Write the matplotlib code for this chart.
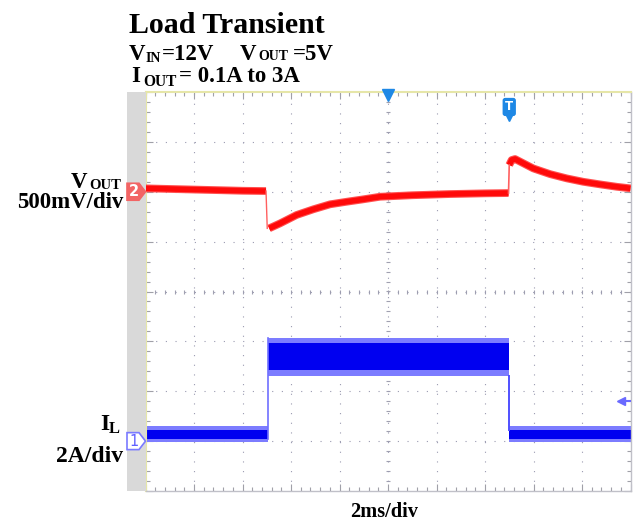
import matplotlib
matplotlib.use('Agg')
import matplotlib.pyplot as plt
import numpy as np
from matplotlib.patches import Polygon, Rectangle
from matplotlib.ticker import MultipleLocator
import matplotlib.transforms as mtransforms

# ---------------- data ----------------
# time axis: 2 ms/div, 10 divisions
TIME_MS_PER_DIV = 2.0
# CH2: Vout deviation (mV), 500 mV/div, ground marker at +2.0 div
CH2_OFFSET_DIV = 2.0
CH2_MV_PER_DIV = 500.0
vout_t1 = [0.0, 1.0, 2.0, 3.0, 4.0, 4.97]
vout_mv1 = [34, 28, 22, 16, 10, 7]
vout_t2 = [5.1, 5.55, 6.23, 6.92, 7.61, 8.3, 8.98, 9.67, 11.0, 12.56, 14.0, 14.97]
vout_mv2 = [-367, -317, -233, -176, -126, -100, -76, -50, -35, -23, -16, -13]
vout_t3 = [15.0, 15.1, 15.24, 15.99, 16.68, 17.37, 18.05, 18.74, 19.43, 20.0]
vout_mv3 = [268, 318, 328, 234, 177, 134, 100, 74, 50, 34]

# CH1: inductor current IL (A), 2 A/div, ground marker at -3.0 div
CH1_OFFSET_DIV = -3.0
CH1_A_PER_DIV = 2.0
il_seg_start = [0.0, 5.05, 15.0]
il_seg_end = [5.05, 15.0, 20.0]
il_outer_lo = [-0.05, 2.62, -0.05]
il_outer_hi = [0.62, 4.12, 0.62]
il_inner_lo = [0.08, 2.84, 0.08]
il_inner_hi = [0.45, 3.94, 0.45]
TRIG_LEVEL_A = 1.62
TRIG_TIME_MS = 15.0

# ---------------- figure ----------------
W, H = 633, 522
fig = plt.figure(figsize=(W / 100, H / 100), dpi=100)
fig.patch.set_facecolor('white')
ax = fig.add_axes([145.5 / W, 1 - 491 / H, 485 / W, 399 / H])
ax.set_xlim(0, 10 * TIME_MS_PER_DIV)
ax.set_ylim(-4, 4)

# gray strip at left of the graticule
fig.patches.append(Rectangle((127 / W, 1 - 491 / H), 18.5 / W, 399 / H,
                             transform=fig.transFigure, facecolor='#d9d9d9',
                             edgecolor='none', zorder=0))

# graticule
ax.xaxis.set_major_locator(MultipleLocator(TIME_MS_PER_DIV))
ax.xaxis.set_minor_locator(MultipleLocator(TIME_MS_PER_DIV / 5))
ax.yaxis.set_major_locator(MultipleLocator(1))
ax.yaxis.set_minor_locator(MultipleLocator(0.2))
ax.tick_params(which='both', direction='in', top=True, right=True,
               labelbottom=False, labelleft=False, color='#a0a0a8')
ax.tick_params(which='major', length=5, width=0.8)
ax.tick_params(which='minor', length=3, width=0.8)
ax.grid(True, which='major', color='#9a9ab0', linestyle=(0, (1, 7.7)), linewidth=0.8)
for side in ('left', 'top'):
    ax.spines[side].set_color('#e6e6a8')
    ax.spines[side].set_linewidth(1.5)
for side in ('right', 'bottom'):
    ax.spines[side].set_color('#c0c0c8')
    ax.spines[side].set_linewidth(1.0)
cx = np.arange(0, 20.01, 0.4)
cy = np.arange(-4, 4.01, 0.2)
ax.scatter(cx, np.zeros_like(cx), marker='|', s=10, color='#a0a0b0', linewidths=0.8, zorder=1)
ax.scatter(np.full_like(cy, 10.0), cy, marker='_', s=10, color='#a0a0b0', linewidths=0.8, zorder=1)

# CH2 red trace
def v2d(mv):
    return CH2_OFFSET_DIV + np.asarray(mv, dtype=float) / CH2_MV_PER_DIV

red = '#ff0a0a'
for tt, vv in ((vout_t1, vout_mv1), (vout_t2, vout_mv2), (vout_t3, vout_mv3)):
    ax.plot(tt, v2d(vv), color='#ff5050', lw=5.6, solid_capstyle='butt',
            solid_joinstyle='round', zorder=3)
    ax.plot(tt, v2d(vv), color=red, lw=4.0, solid_capstyle='butt',
            solid_joinstyle='round', zorder=3)
ax.plot([vout_t1[-1], vout_t1[-1] + 0.05], [v2d(vout_mv1[-1]), v2d(vout_mv2[0])],
        color='#ff6060', lw=1.0, zorder=3)
ax.plot([vout_t2[-1], vout_t3[0]], [v2d(vout_mv2[-1]), v2d(vout_mv3[0])],
        color='#ff6060', lw=1.2, zorder=3)

# CH1 blue trace
def i2d(a):
    return CH1_OFFSET_DIV + np.asarray(a, dtype=float) / CH1_A_PER_DIV

for k in range(len(il_seg_start)):
    tt = [il_seg_start[k], il_seg_end[k]]
    ax.fill_between(tt, i2d([il_outer_lo[k]] * 2), i2d([il_outer_hi[k]] * 2),
                    color='#7c7cff', lw=0, zorder=2)
    ax.fill_between(tt, i2d([il_inner_lo[k]] * 2), i2d([il_inner_hi[k]] * 2),
                    color='#0000f0', lw=0, zorder=2)
# rise / fall edges
ax.plot([il_seg_end[0], il_seg_end[0]], [i2d(il_inner_lo[0]), i2d(il_outer_hi[1])],
        color='#7070ff', lw=1.2, zorder=2)
ax.plot([il_seg_end[1], il_seg_end[1]], [i2d(il_outer_lo[1]), i2d(il_inner_hi[2])],
        color='#5050ff', lw=1.4, zorder=2)

# trigger markers
ax.plot([10.0], [3.93], marker='v', ms=8, color='#1e88e5', clip_on=False, zorder=5)
ax.plot([TRIG_TIME_MS], [3.50], marker='v', ms=6, color='#1e88e5', clip_on=False, zorder=5)
ax.text(TRIG_TIME_MS, 3.70, 'T', color='white', fontsize=8.5, fontweight='bold',
        ha='center', va='center', zorder=6,
        bbox=dict(boxstyle='round,pad=0.22', fc='#1e88e5', ec='none'))
ax.plot([19.62, 19.98], [i2d(TRIG_LEVEL_A)] * 2, color='#6a6aff', lw=1.5, zorder=5)
ax.plot([19.62], [i2d(TRIG_LEVEL_A)], marker='<', ms=6, color='#6a6aff', zorder=5)

# channel ground markers (x in figure, y in data)
bt = mtransforms.blended_transform_factory(fig.transFigure, ax.transData)
def chmarker(ydiv, fc, ec, label, tc, weight):
    hh = 0.17
    pts = [(127 / W, ydiv + hh), (139 / W, ydiv + hh), (145.5 / W, ydiv),
           (139 / W, ydiv - hh), (127 / W, ydiv - hh)]
    fig.patches.append(Polygon(pts, closed=True, transform=bt, facecolor=fc,
                               edgecolor=ec, lw=1.2, zorder=3))
    fig.text(134 / W, ydiv, label, transform=bt, color=tc, fontsize=10.5,
             fontweight=weight, ha='center', va='center', zorder=4)

chmarker(CH2_OFFSET_DIV, '#f26464', '#f26464', '2', 'white', 'bold')
chmarker(CH1_OFFSET_DIV, 'white', '#7a7aff', '1', '#6060ff', 'normal')

# ---------------- text ----------------
SERIF = 'Liberation Serif'
def ftext(x, y, s, size, ha='left'):
    fig.text(x / W, 1 - y / H, s, fontsize=size, fontfamily=SERIF,
             fontweight='bold', ha=ha, va='baseline', color='black')

ftext(129, 33.3, 'Load Transient', 21.5)
ftext(128.5, 60, 'V', 16.5)
ftext(145.5, 61.5, 'IN', 10)
ftext(162, 60, '=12V', 16.5)
ftext(240, 60, 'V', 16.5)
ftext(258.5, 60.5, 'OUT', 10)
ftext(293, 60, '=5V', 16.5)
ftext(131, 81.7, 'I', 16.5)
ftext(143, 86, 'OUT', 11.2)
ftext(179, 81.7, '= 0.1A to 3A', 16.5)

ftext(71, 188, 'V', 16.5)
ftext(89.5, 189, 'OUT', 10.5)
ftext(123, 208, '500mV/div', 16.5, ha='right')
ftext(100, 430, 'I', 17)
ftext(108.5, 433, 'L', 12)
ftext(123, 462, '2A/div', 17, ha='right')
ftext(384, 517, '2ms/div', 14.7, ha='center')

fig.savefig('out.png', dpi=100)
